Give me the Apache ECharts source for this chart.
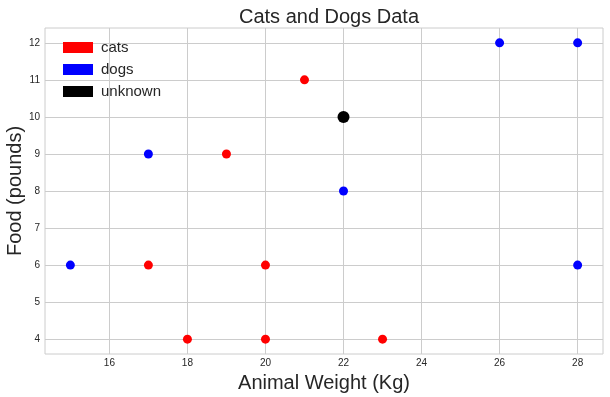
<!DOCTYPE html>
<html lang="en">
<head>
    <meta charset="UTF-8">
    <title>Cats and Dogs Data</title>
    <style>
        body { margin: 0; background: #fff; }
    </style>
</head>
<body>
    <div id="chart" style="width: 610px;height: 397px;"></div>
    <script src="https://cdn.jsdelivr.net/npm/echarts@6/dist/echarts.min.js"></script>
    <script>
        // weight (kg), food (pounds)
        var catWeight = [21, 19, 17, 20, 18, 20, 23];
        var catFood = [11, 9, 6, 6, 4, 4, 4];
        var dogWeight = [26, 28, 17, 22, 15, 28];
        var dogFood = [12, 12, 9, 8, 6, 6];
        var unknownWeight = [22];
        var unknownFood = [10];
        var xTicks = [16, 18, 20, 22, 24, 26, 28];
        var yTicks = [4, 5, 6, 7, 8, 9, 10, 11, 12];

        function pairs(xs, ys) {
            return xs.map(function (x, i) { return [x, ys[i]]; });
        }

        var textColor = '#262626';
        var font = 'Liberation Sans';
        var chartDom = document.getElementById('chart');
        var myChart = echarts.init(chartDom);
        var option = {
            animation: false,
            title: {
                text: 'Cats and Dogs Data',
                left: 324,
                textAlign: 'center',
                top: 2,
                textStyle: { fontFamily: font, fontSize: 20, fontWeight: 'normal', color: textColor }
            },
            legend: {
                orient: 'vertical',
                left: 58,
                top: 35,
                itemWidth: 30,
                itemHeight: 11,
                itemGap: 7,
                icon: 'rect',
                textStyle: { fontFamily: font, fontSize: 15, color: textColor, padding: [0, 0, 0, 3] },
                data: ['cats', 'dogs', 'unknown']
            },
            grid: {
                left: 45, right: 7, top: 28, bottom: 43,
                outerBoundsMode: 'none',
                containLabel: false,
                show: true, borderColor: '#cccccc', borderWidth: 1
            },
            xAxis: {
                type: 'value',
                min: 14.35, max: 28.65,
                name: 'Animal Weight (Kg)',
                nameLocation: 'middle',
                nameGap: 19,
                nameMoveOverlap: false,
                nameTextStyle: { fontFamily: font, fontSize: 20, color: textColor },
                axisLine: { show: false },
                axisTick: { show: false, customValues: xTicks },
                axisLabel: {
                    fontFamily: font, fontSize: 10, color: textColor, margin: 4,
                    customValues: xTicks
                },
                splitLine: { show: true, lineStyle: { color: '#cccccc', width: 1 } }
            },
            yAxis: {
                type: 'value',
                min: 3.6, max: 12.4,
                name: 'Food (pounds)',
                nameLocation: 'middle',
                nameGap: 20,
                nameMoveOverlap: false,
                nameTextStyle: { fontFamily: font, fontSize: 20, color: textColor },
                axisLine: { show: false },
                axisTick: { show: false, customValues: yTicks },
                axisLabel: {
                    fontFamily: font, fontSize: 10, color: textColor, margin: 5,
                    customValues: yTicks
                },
                splitLine: { show: true, lineStyle: { color: '#cccccc', width: 1 } }
            },
            series: [
                {
                    name: 'cats', type: 'scatter', symbolSize: 9,
                    itemStyle: { color: '#ff0000', opacity: 1 },
                    data: pairs(catWeight, catFood)
                },
                {
                    name: 'dogs', type: 'scatter', symbolSize: 9,
                    itemStyle: { color: '#0000ff', opacity: 1 },
                    data: pairs(dogWeight, dogFood)
                },
                {
                    name: 'unknown', type: 'scatter', symbolSize: 12,
                    itemStyle: { color: '#000000', opacity: 1 },
                    data: pairs(unknownWeight, unknownFood)
                }
            ]
        };
        myChart.setOption(option);
    </script>
</body>
</html>
